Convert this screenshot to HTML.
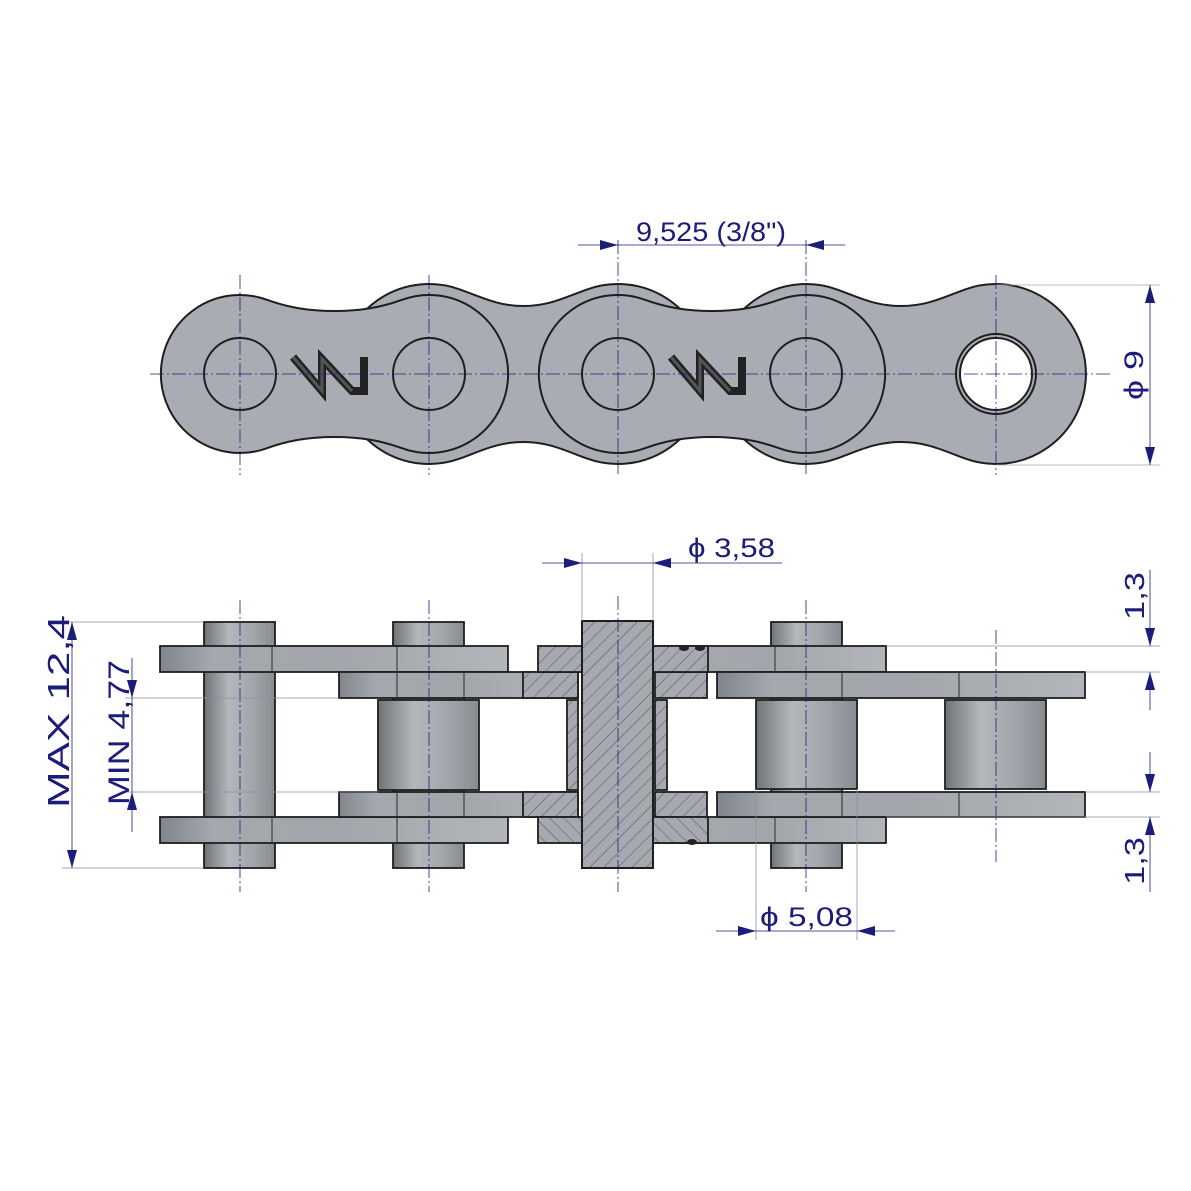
<!DOCTYPE html>
<html><head><meta charset="utf-8"><style>html,body{margin:0;padding:0;background:#fff}svg{display:block}</style></head>
<body>
<svg width="1191" height="1191" viewBox="0 0 1191 1191" xmlns="http://www.w3.org/2000/svg" font-family="Liberation Sans, sans-serif">
<defs>
<linearGradient id="cyl" x1="0" x2="1" y1="0" y2="0">
<stop offset="0" stop-color="#6e7378"/><stop offset="0.35" stop-color="#b4b8bc"/><stop offset="0.7" stop-color="#a2a6ab"/><stop offset="1" stop-color="#878c91"/>
</linearGradient>
<linearGradient id="plate" x1="0" x2="1" y1="0" y2="0">
<stop offset="0" stop-color="#80858b"/><stop offset="0.15" stop-color="#a5a9ae"/><stop offset="0.5" stop-color="#a2a6ab"/><stop offset="1" stop-color="#b2b6ba"/>
</linearGradient>
<pattern id="hatch" width="10" height="10" patternUnits="userSpaceOnUse" patternTransform="rotate(45)">
<rect width="10" height="10" fill="#a6aab0"/><line x1="0" y1="0" x2="0" y2="10" stroke="#3a3d42" stroke-width="0.8"/>
</pattern>
<pattern id="hatch2" width="10" height="10" patternUnits="userSpaceOnUse" patternTransform="rotate(-45)">
<rect width="10" height="10" fill="#a6aab0"/><line x1="0" y1="0" x2="0" y2="10" stroke="#3a3d42" stroke-width="0.8"/>
</pattern>
</defs>

<g fill="#a9adb3" stroke="#1e1e1e" stroke-width="2">
<path d="M459.8,289.4 C482,297.4 498,306 523.5,306 C549,306 565,297.4 587.2,289.4 A90,90 0 1 1 587.2,458.6 C565,450.6 549,442 523.5,442 C498,442 482,450.6 459.8,458.6 A90,90 0 1 1 459.8,289.4 Z"/>
<path d="M836.8,289.4 C859,297.4 875,306 901,306 C927,306 943,297.4 965.2,289.4 A90,90 0 1 1 965.2,458.6 C943,450.6 927,442 901,442 C875,442 859,450.6 836.8,458.6 A90,90 0 1 1 836.8,289.4 Z"/>
<path d="M267,299.8 C287,307 307,311 334.5,311 C362,311 382,307 402,299.8 A79,79 0 1 1 402,448.2 C382,441 362,437 334.5,437 C307,437 287,441 267,448.2 A79,79 0 1 1 267,299.8 Z"/>
<path d="M645,299.8 C665,307 685,311 712,311 C739,311 759,307 779,299.8 A79,79 0 1 1 779,448.2 C759,441 739,437 712,437 C685,437 665,441 645,448.2 A79,79 0 1 1 645,299.8 Z"/>
<circle cx="240" cy="374" r="36" fill="none"/>
<circle cx="429" cy="374" r="36" fill="none"/>
<circle cx="618" cy="374" r="36" fill="none"/>
<circle cx="806" cy="374" r="36" fill="none"/>
<circle cx="996" cy="374" r="40"/>
<circle cx="996" cy="374" r="36" fill="#fff"/>
</g>
<g fill="none" stroke-linejoin="miter">
<path d="M293,357 L322,391 L322,359 L352,391 L364,391 L364,357" stroke="#222" stroke-width="8"/>
<path d="M293,357 L322,391 L322,359 L352,391" stroke="#555" stroke-width="3"/>
<path d="M671,357 L700,391 L700,359 L730,391 L742,391 L742,357" stroke="#222" stroke-width="8"/>
<path d="M671,357 L700,391 L700,359 L730,391" stroke="#555" stroke-width="3"/>
</g>
<g stroke="#1c1c7a" stroke-width="0.8" stroke-dasharray="14,3,2,3" fill="none">
<line x1="150" y1="374" x2="1110" y2="374"/>
<line x1="240" y1="275" x2="240" y2="475"/>
<line x1="429" y1="275" x2="429" y2="475"/>
<line x1="618" y1="240" x2="618" y2="475"/>
<line x1="806" y1="240" x2="806" y2="475"/>
<line x1="996" y1="275" x2="996" y2="475"/>
</g>
<g stroke="#1c1c7a" stroke-width="0.8" fill="none">
<line x1="578" y1="245" x2="845" y2="245"/>
<line x1="996" y1="285" x2="1160" y2="285" stroke="#9aa"/>
<line x1="996" y1="465" x2="1160" y2="465" stroke="#9aa"/>
<line x1="1150" y1="285" x2="1150" y2="465"/>
</g>
<g fill="#1c1c7a" font-size="27">
<polygon points="618,245 600,240 600,250"/>
<polygon points="806,245 824,240 824,250"/>
<polygon points="1150,285 1145,303 1155,303"/>
<polygon points="1150,465 1145,447 1155,447"/>
<text x="636" y="241" textLength="150" lengthAdjust="spacingAndGlyphs">9,525  (3/8")</text>
<text transform="translate(1143,400) rotate(-90)" textLength="50" lengthAdjust="spacingAndGlyphs">ϕ 9</text>
</g>

<g stroke="#1e1e1e" stroke-width="1.8">
<rect x="204" y="622" width="71" height="246" fill="url(#cyl)"/>
<rect x="393" y="622" width="71" height="246" fill="url(#cyl)"/>
<rect x="771" y="622" width="71" height="246" fill="url(#cyl)"/>
<rect x="378" y="700" width="101" height="90" fill="url(#cyl)"/>
<rect x="756" y="700" width="101" height="89" fill="url(#cyl)"/>
<rect x="945" y="700" width="101" height="89" fill="url(#cyl)"/>
<rect x="160" y="646" width="348" height="26" fill="url(#plate)"/>
<rect x="160" y="817" width="348" height="26" fill="url(#plate)"/>
<rect x="339" y="672" width="239" height="26" fill="url(#plate)"/>
<rect x="339" y="792" width="239" height="25" fill="url(#plate)"/>
<rect x="653" y="646" width="233" height="26" fill="url(#plate)"/>
<rect x="653" y="817" width="233" height="26" fill="url(#plate)"/>
<rect x="717" y="672" width="368" height="26" fill="url(#plate)"/>
<rect x="717" y="792" width="368" height="25" fill="url(#plate)"/>
</g>
<g stroke="#1e1e1e" stroke-width="1.8">
<rect x="523" y="672" width="55" height="26" fill="url(#hatch)"/>
<rect x="523" y="792" width="55" height="25" fill="url(#hatch)"/>
<rect x="655" y="672" width="52" height="26" fill="url(#hatch)"/>
<rect x="655" y="792" width="52" height="25" fill="url(#hatch)"/>
<rect x="567" y="700" width="11" height="90" fill="url(#hatch)"/>
<rect x="655" y="700" width="12" height="90" fill="url(#hatch)"/>
<rect x="538" y="646" width="44" height="26" fill="url(#hatch)"/>
<rect x="653" y="646" width="55" height="26" fill="url(#hatch)"/>
<rect x="538" y="817" width="44" height="26" fill="url(#hatch2)"/>
<rect x="653" y="817" width="55" height="26" fill="url(#hatch2)"/>
<rect x="582" y="621" width="71" height="247" fill="url(#hatch)" stroke-width="2"/>
</g>
<g fill="#222">
<ellipse cx="684" cy="648" rx="5" ry="3"/><ellipse cx="700" cy="648" rx="5" ry="3"/>
<ellipse cx="692" cy="842" rx="5" ry="3"/>
</g>
<g stroke="#2a2a2a" stroke-width="1">
<line x1="272" y1="646" x2="272" y2="672"/><line x1="272" y1="817" x2="272" y2="843"/>
<line x1="397" y1="646" x2="397" y2="698"/><line x1="464" y1="672" x2="464" y2="698"/>
<line x1="397" y1="792" x2="397" y2="843"/><line x1="464" y1="792" x2="464" y2="817"/>
<line x1="775" y1="646" x2="775" y2="672"/><line x1="842" y1="672" x2="842" y2="698"/>
<line x1="775" y1="817" x2="775" y2="843"/><line x1="842" y1="792" x2="842" y2="817"/>
<line x1="959" y1="672" x2="959" y2="698"/><line x1="959" y1="792" x2="959" y2="817"/>
</g>
<g stroke="#1c1c7a" stroke-width="0.8" stroke-dasharray="14,3,2,3" fill="none">
<line x1="240" y1="600" x2="240" y2="892"/>
<line x1="429" y1="600" x2="429" y2="892"/>
<line x1="618" y1="596" x2="618" y2="892"/>
<line x1="806" y1="600" x2="806" y2="892"/>
<line x1="996" y1="630" x2="996" y2="862"/>
</g>
<g stroke="#1c1c7a" stroke-width="0.8" fill="none">
<line x1="62" y1="622" x2="204" y2="622" stroke="#8a8fa8"/>
<line x1="62" y1="868" x2="204" y2="868" stroke="#8a8fa8"/>
<line x1="72" y1="622" x2="72" y2="868"/>
<line x1="125" y1="698" x2="339" y2="698" stroke="#8a8fa8"/>
<line x1="125" y1="792" x2="378" y2="792" stroke="#8a8fa8"/>
<line x1="132" y1="658" x2="132" y2="832"/>
<line x1="582" y1="553" x2="582" y2="621" stroke="#8a8fa8"/>
<line x1="653" y1="553" x2="653" y2="621" stroke="#8a8fa8"/>
<line x1="542" y1="563" x2="782" y2="563"/>
<line x1="756" y1="789" x2="756" y2="940" stroke="#8a8fa8"/>
<line x1="857" y1="789" x2="857" y2="940" stroke="#8a8fa8"/>
<line x1="716" y1="931" x2="895" y2="931"/>
<line x1="886" y1="646" x2="1160" y2="646" stroke="#8a8fa8"/>
<line x1="1085" y1="672" x2="1160" y2="672" stroke="#8a8fa8"/>
<line x1="1085" y1="792" x2="1160" y2="792" stroke="#8a8fa8"/>
<line x1="886" y1="817" x2="1160" y2="817" stroke="#8a8fa8"/>
<line x1="1150" y1="570" x2="1150" y2="646"/>
<line x1="1150" y1="672" x2="1150" y2="710"/>
<line x1="1150" y1="752" x2="1150" y2="792"/>
<line x1="1150" y1="817" x2="1150" y2="892"/>
</g>
<g fill="#1c1c7a" font-size="27">
<polygon points="72,622 67,640 77,640"/>
<polygon points="72,868 67,850 77,850"/>
<polygon points="132,698 127,680 137,680"/>
<polygon points="132,792 127,810 137,810"/>
<polygon points="582,563 564,558 564,568"/>
<polygon points="653,563 671,558 671,568"/>
<polygon points="756,931 738,926 738,936"/>
<polygon points="857,931 875,926 875,936"/>
<polygon points="1150,646 1145,628 1155,628"/>
<polygon points="1150,672 1145,690 1155,690"/>
<polygon points="1150,792 1145,774 1155,774"/>
<polygon points="1150,817 1145,835 1155,835"/>
<text transform="translate(69,808) rotate(-90)" font-size="31" textLength="193" lengthAdjust="spacingAndGlyphs">MAX  12,4</text>
<text transform="translate(129,805) rotate(-90)" font-size="30" textLength="145" lengthAdjust="spacingAndGlyphs">MIN  4,77</text>
<text x="688" y="557" textLength="87" lengthAdjust="spacingAndGlyphs">ϕ  3,58</text>
<text x="760" y="926" textLength="93" lengthAdjust="spacingAndGlyphs">ϕ  5,08</text>
<text transform="translate(1144,620) rotate(-90)" font-size="28" textLength="48" lengthAdjust="spacingAndGlyphs">1,3</text>
<text transform="translate(1144,885) rotate(-90)" font-size="28" textLength="48" lengthAdjust="spacingAndGlyphs">1,3</text>
</g>
</svg>
</body></html>
